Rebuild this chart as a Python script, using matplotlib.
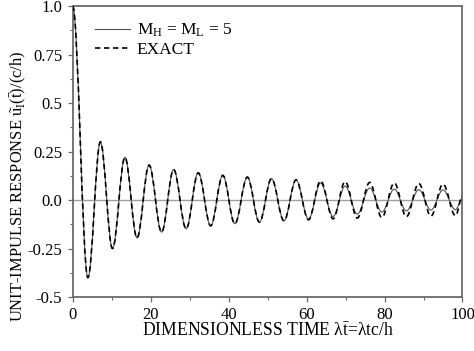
import matplotlib
matplotlib.use("Agg")
import matplotlib.pyplot as plt
from matplotlib.path import Path
from matplotlib.patches import PathPatch
from matplotlib.lines import Line2D
from matplotlib.ticker import MultipleLocator

plt.rcParams['font.family'] = ['Liberation Serif', 'DejaVu Serif']
plt.rcParams['mathtext.fontset'] = 'custom'
plt.rcParams['mathtext.rm'] = 'Liberation Serif'
plt.rcParams['mathtext.it'] = 'Liberation Serif:italic'
plt.rcParams['mathtext.bf'] = 'Liberation Serif:bold'

# Turning points (peaks / troughs) of the impulse response, plus end values
t_knots = [0.0, 3.9, 7.1, 10.2, 13.4, 16.5, 19.6, 22.8, 25.9, 29.1, 32.2,
           35.4, 38.5, 41.6, 44.8, 47.9, 51.0, 54.2, 57.3, 60.5, 63.6,
           66.8, 69.9, 73.0, 76.2, 79.3, 82.5, 85.6, 88.8, 91.9, 95.0,
           98.2, 100.0]
u_exact = [1.0, -0.40, 0.30, -0.25, 0.22, -0.195, 0.18, -0.165, 0.157,
           -0.148, 0.14, -0.133, 0.127, -0.122, 0.118, -0.114, 0.11,
           -0.107, 0.104, -0.102, 0.099, -0.097, 0.095, -0.093, 0.091,
           -0.09, 0.088, -0.086, 0.085, -0.083, 0.082, -0.081, 0.02]
u_m5 = [1.0, -0.40, 0.30, -0.25, 0.22, -0.195, 0.18, -0.165, 0.157,
        -0.148, 0.14, -0.133, 0.127, -0.122, 0.118, -0.114, 0.11,
        -0.107, 0.103, -0.098, 0.088, -0.085, 0.072, -0.072, 0.062,
        -0.062, 0.056, -0.056, 0.053, -0.052, 0.052, -0.05, 0.01]

x_ticks = [0, 20, 40, 60, 80, 100]
y_ticks = [-0.5, -0.25, 0.0, 0.25, 0.5, 0.75, 1.0]
y_ticklabels = ['-0.5', '-0.25', '0.0', '0.25', '0.5', '0.75', '1.0']


def turning_point_path(t, u, k=0.3642):
    """Smooth path through turning points with flat tangents at each knot."""
    verts = [(t[0], u[0])]
    codes = [Path.MOVETO]
    for i in range(len(t) - 1):
        dt = t[i + 1] - t[i]
        verts += [(t[i] + k * dt, u[i]), (t[i + 1] - k * dt, u[i + 1]),
                  (t[i + 1], u[i + 1])]
        codes += [Path.CURVE4] * 3
    return Path(verts, codes)


fig = plt.figure(figsize=(4.74, 3.51), dpi=100)
ax = fig.add_axes([0.1534, 0.1538, 0.8223, 0.829])

spine_col = '#6a6a6a'
ax.axhline(0.0, color='#a0a0a0', lw=1.0, zorder=1)

m5_style = dict(color='#505050', lw=0.8)
ex_style = dict(color='black', lw=1.2, linestyle=(0, (3.2, 2.2)))

ax.add_patch(PathPatch(turning_point_path(t_knots, u_m5), fill=False,
                       zorder=3, **m5_style))
ax.add_patch(PathPatch(turning_point_path(t_knots, u_exact), fill=False,
                       zorder=4, **ex_style))

ax.set_xlim(0, 100)
ax.set_ylim(-0.5, 1.0)
ax.set_xticks(x_ticks)
ax.set_yticks(y_ticks)
ax.set_yticklabels(y_ticklabels)
ax.xaxis.set_minor_locator(MultipleLocator(10))
ax.yaxis.set_minor_locator(MultipleLocator(0.125))

for s in ax.spines.values():
    s.set_color(spine_col)
    s.set_linewidth(1.3)
ax.tick_params(which='major', direction='out', length=3.5, width=0.9,
               color=spine_col, labelsize=12, pad=4)
ax.tick_params(which='minor', direction='out', length=2.5, width=0.8,
               color=spine_col)

handles = [Line2D([], [], **m5_style), Line2D([], [], **ex_style)]
labels = [r'M$_\mathrm{H}$ = M$_\mathrm{L}$ = 5', 'EXACT']
ax.legend(handles, labels, loc='upper left', bbox_to_anchor=(0.04, 0.97),
          frameon=False, fontsize=12.5, handlelength=2.0,
          handletextpad=0.4, labelspacing=0.15, borderaxespad=0.0)

ax.set_xlabel(r'DIMENSIONLESS TIME λ$\bar{\mathrm{t}}$=λtc/h',
              fontsize=12.7, labelpad=-1)
fig.text(0.04, 0.47,
         r'UNIT-IMPULSE RESPONSE $\tilde{\mathrm{u}}_{\mathrm{I}}(\bar{\mathrm{t}})$/(c/h)',
         rotation=90, ha='center', va='center', fontsize=11.9)

fig.savefig('out.png', dpi=100)
